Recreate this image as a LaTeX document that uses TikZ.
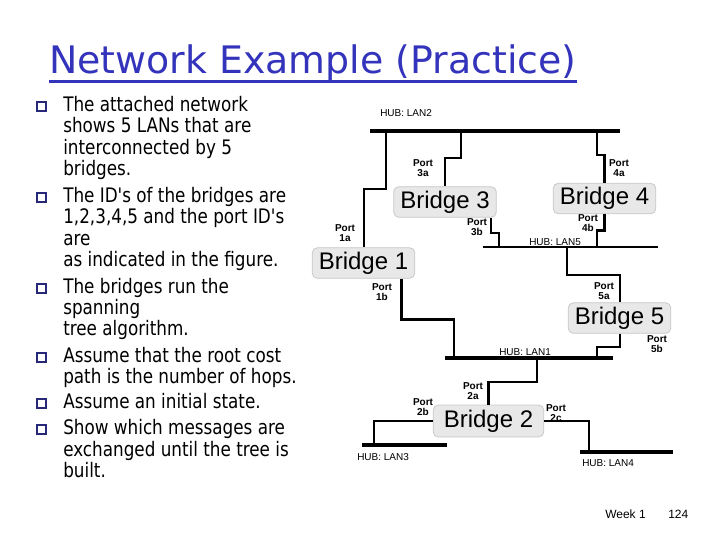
\documentclass[tikz,border=0pt]{standalone}
\usepackage{fontspec}
\newfontfamily\arial{Liberation Sans}
\newfontfamily\comic{DejaVu Sans}[FakeStretch=0.84]
\newfontfamily\comictitle{DejaVu Sans}
\definecolor{titleblue}{RGB}{51,51,187}
\definecolor{navy}{RGB}{40,40,120}
\definecolor{boxfill}{RGB}{232,232,232}
\definecolor{boxline}{RGB}{200,200,200}
\begin{document}
\begin{tikzpicture}[x=0.75pt,y=-0.75pt,
  body/.style={font=\comic\fontsize{15}{16}\selectfont, anchor=base west, inner sep=0pt},
  bul/.style={draw=navy, line width=0.9pt},
  bridge/.style={draw=boxline, fill=boxfill, rounded corners=4pt, line width=0.6pt,
     minimum width=77pt, minimum height=23pt, inner sep=0pt, font=\arial\fontsize{18}{20}\selectfont},
  port/.style={font=\arial\bfseries\fontsize{7.5}{7.5}\selectfont, align=center, inner sep=0pt},
  hub/.style={font=\arial\fontsize{7.5}{8}\selectfont, anchor=west, inner sep=0pt},
  lan/.style={line width=3pt},
  lanthin/.style={line width=1.5pt},
  wire/.style={line width=1.5pt},
  wirethick/.style={line width=2.2pt}]
\useasboundingbox (0,0) rectangle (720,540);

% title
\node[font=\comictitle\fontsize{28.4}{30}\selectfont, text=titleblue, anchor=base west, inner sep=0pt] (title) at (49,73) {Network Example (Practice)};
\draw[titleblue, line width=2pt] ([yshift=-6.5pt]title.base west) -- ([yshift=-6.5pt]title.base east);

% bullet text
\foreach \n/\y/\t in {t1/111/{The attached network}, t2/132/{shows 5 LANs that are}, t3/154/{interconnected by 5}, t4/175/{bridges.},
  t5/202/{The ID's of the bridges are}, t6/223/{1,2,3,4,5 and the port ID's}, t7/245/{are}, t8/266/{as indicated in the figure.},
  t9/293/{The bridges run the}, t10/314/{spanning}, t11/335/{tree algorithm.},
  t12/362/{Assume that the root cost}, t13/383/{path is the number of hops.},
  t14/408/{Assume an initial state.},
  t15/434/{Show which messages are}, t16/456/{exchanged until the tree is}, t17/477/{built.}}
  {\node[body] (\n) at (63,\y) {\t};}
\foreach \y in {111,202,293,362,408,434}
  {\draw[bul] (37,\y-9) rectangle (46,\y);}

% bridges
\node[bridge] (b1) at (363.5,263) {Bridge 1};
\node[bridge] (b3) at (445,202) {Bridge 3};
\node[bridge] (b4) at (604.5,198.5) {Bridge 4};
\node[bridge] (b5) at (619.5,318) {Bridge 5};
\node[bridge, minimum width=83pt, minimum height=24pt] (b2) at (488.5,421) {Bridge 2};

% LAN coordinates
\coordinate (l2w) at (370,131); \coordinate (l2e) at (620,131);
\coordinate (l2t1) at (386,131); \coordinate (l2t3) at (461,131); \coordinate (l2t4) at (597,131);
\coordinate (l5w) at (483,247); \coordinate (l5e) at (658,247);
\coordinate (l5t3) at (499,247); \coordinate (l5t4) at (597,247); \coordinate (l5t5) at (567,247);
\coordinate (l1w) at (445,358); \coordinate (l1e) at (613,358);
\coordinate (l1t1) at (454,358); \coordinate (l1t5) at (597,358); \coordinate (l1t2) at (537,358);
\coordinate (l3w) at (362,445); \coordinate (l3e) at (447,445); \coordinate (l3t) at (374,445);
\coordinate (l4w) at (580,452); \coordinate (l4e) at (673,452); \coordinate (l4t) at (589,452);

% LANs
\draw[lan] (l2w) -- (l2e);
\draw[lanthin] (l5w) -- (l5e);
\draw[lan] (l1w) -- (l1e);
\draw[lan] (l3w) -- (l3e);
\draw[lan] (l4w) -- (l4e);

% wires
\draw[wire] (l2t1) -- ++(0,58) -| (b1.north);
\draw[wire] (l2t3) -- ++(0,27) -| (b3.north);
\draw[wirethick] (l2t4) -- ++(0,24) -| (b4.north);
\draw[wire] ([xshift=-4.5pt]b3.south east) -- ++(0,15) -| (l5t3);
\draw[wirethick] (b4.south) -- ++(0,16) -| (l5t4);
\draw[wire] (l5t5) -- ++(0,28) -| (b5.north);
\draw[wire] (b5.south) -- ++(0,13) -| (l1t5);
\draw[wirethick] ([xshift=-10.5pt]b1.south east) -- ++(0,41) -| (l1t1);
\draw[wirethick] (l1t2) -- ++(0,24) -| (b2.north);
\draw[wire] (b2.west) -| (l3t);
\draw[wire] (b2.east) -| (l4t);

% hub labels
\node[hub] (h2) at (380,113) {HUB: LAN2};
\node[hub] (h5) at (529,242) {HUB: LAN5};
\node[hub] (h1) at (499,352) {HUB: LAN1};
\node[hub] (h3) at (357,457) {HUB: LAN3};
\node[hub] (h4) at (582,463) {HUB: LAN4};

% port labels
\node[port] (p1a) at (345,233) {Port\\1a};
\node[port] (p3a) at (423,168) {Port\\3a};
\node[port] (p4a) at (619,168) {Port\\4a};
\node[port] (p3b) at (477,227) {Port\\3b};
\node[port] (p4b) at (588,223) {Port\\4b};
\node[port] (p1b) at (382,292) {Port\\1b};
\node[port] (p5a) at (604,291) {Port\\5a};
\node[port] (p5b) at (657,344) {Port\\5b};
\node[port] (p2a) at (473,391) {Port\\2a};
\node[port] (p2b) at (423,407) {Port\\2b};
\node[port] (p2c) at (556,413) {Port\\2c};

% footer
\node[font=\arial\fontsize{9}{10}\selectfont, anchor=base west, inner sep=0pt] (wk) at (605,518) {Week 1};
\node[font=\arial\fontsize{9}{10}\selectfont, anchor=base west, inner sep=0pt] (pg) at (668,518) {124};
\end{tikzpicture}
\end{document}
